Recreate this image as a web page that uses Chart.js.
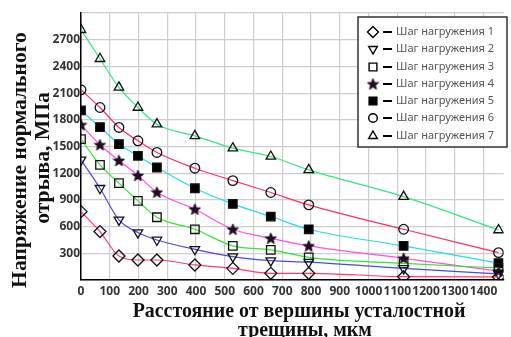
<!DOCTYPE html>
<html>
<head>
<meta charset="utf-8">
<script src="https://cdn.jsdelivr.net/npm/chart.js@4"></script>
<style>
  html, body { margin: 0; padding: 0; background: #fff; }
</style>
</head>
<body>
<canvas id="stressChart" width="511" height="337"></canvas>
<script>
// расстояние от вершины трещины, мкм
const distances = [0, 66, 132, 198, 264, 396, 528, 660, 792, 1122, 1452];

// напряжение, МПа
const step1 = [768, 544, 270, 225, 225, 169, 131, 75, 75, 37, 34];
const step2 = [1350, 1031, 675, 533, 450, 345, 263, 218, 200, 131, 68];
const step3 = [1582, 1294, 1088, 889, 705, 570, 383, 338, 255, 187, 135];
const step4 = [1744, 1519, 1342, 1174, 986, 795, 570, 469, 383, 244, 100];
const step5 = [1905, 1718, 1527, 1395, 1264, 1031, 855, 713, 570, 383, 190];
const step6 = [2137, 1938, 1714, 1564, 1433, 1256, 1117, 983, 844, 570, 307];
const step7 = [2812, 2486, 2164, 1938, 1751, 1620, 1481, 1388, 1237, 937, 562];

const seriesNames = ['Шаг нагружения 1', 'Шаг нагружения 2', 'Шаг нагружения 3',
    'Шаг нагружения 4', 'Шаг нагружения 5', 'Шаг нагружения 6', 'Шаг нагружения 7'];
const yTitle = ['Напряжение нормального', 'отрыва, МПа'];
const xTitle = ['Расстояние от вершины усталостной', 'трещины, мкм'];

// звёздочка для 4-го шага
function makeStar() {
    const c = document.createElement('canvas');
    c.width = 13; c.height = 13;
    const g = c.getContext('2d');
    g.beginPath();
    for (let i = 0; i < 10; i++) {
        const r = i % 2 ? 2.5 : 6;
        const a = -Math.PI / 2 + i * Math.PI / 5;
        g.lineTo(6.5 + r * Math.cos(a), 7 + r * Math.sin(a));
    }
    g.closePath();
    g.fillStyle = '#2a0a2a';
    g.fill();
    g.strokeStyle = '#000';
    g.lineWidth = 0.8;
    g.stroke();
    return c;
}
const star = makeStar();

const styles = [
    { line: '#ff3d6e', point: 'rectRot', r: 6, rot: 0, fill: 'rgba(0,0,0,0)' },
    { line: '#4a4ae0', point: 'triangle', r: 5.5, rot: 180, fill: 'rgba(0,0,0,0)' },
    { line: '#30e630', point: 'rect', r: 6, rot: 0, fill: 'rgba(0,0,0,0)' },
    { line: '#ff50e8', point: star, r: 6, rot: 0, fill: '#2a0a2a' },
    { line: '#25dede', point: 'rect', r: 6, rot: 0, fill: '#000' },
    { line: '#ff3060', point: 'circle', r: 4.8, rot: 0, fill: 'rgba(0,0,0,0)' },
    { line: '#36e67c', point: 'triangle', r: 5.5, rot: 0, fill: 'rgba(0,0,0,0)' },
];

const allSteps = [step1, step2, step3, step4, step5, step6, step7];

const datasets = allSteps.map((vals, i) => ({
    label: seriesNames[i],
    data: distances.map((d, j) => ({ x: d, y: vals[j] })),
    borderColor: styles[i].line,
    borderWidth: 1.2,
    cubicInterpolationMode: 'monotone',
    pointStyle: styles[i].point,
    pointRadius: styles[i].r,
    pointRotation: styles[i].rot,
    pointBorderColor: '#111',
    pointBorderWidth: 1.3,
    pointBackgroundColor: styles[i].fill,
}));

const titlesPlugin = {
    id: 'axisTitles',
    afterDraw(chart) {
        const ctx = chart.ctx;
        ctx.save();
        ctx.fillStyle = '#111';
        ctx.textAlign = 'center';
        ctx.textBaseline = 'middle';

        ctx.font = 'bold 20px "Liberation Serif"';
        let size = 20 * 333 / ctx.measureText(xTitle[0]).width;
        ctx.font = `bold ${size}px "Liberation Serif"`;
        ctx.fillText(xTitle[0], 299, 312);
        ctx.fillText(xTitle[1], 305, 331);

        ctx.font = 'bold 20px "Liberation Serif"';
        size = 20 * 256 / ctx.measureText(yTitle[0]).width;
        ctx.font = `bold ${size}px "Liberation Serif"`;
        ctx.save();
        ctx.translate(20.5, 160);
        ctx.rotate(-Math.PI / 2);
        ctx.fillText(yTitle[0], 0, 0);
        ctx.restore();
        ctx.save();
        ctx.translate(43.5, 158);
        ctx.rotate(-Math.PI / 2);
        ctx.fillText(yTitle[1], 0, 0);
        ctx.restore();
        ctx.restore();
    }
};

const legendPlugin = {
    id: 'boxLegend',
    afterDraw(chart) {
        const ctx = chart.ctx;
        ctx.save();
        ctx.fillStyle = '#fff';
        ctx.fillRect(358, 17, 149, 130);
        ctx.strokeStyle = '#333';
        ctx.lineWidth = 1.5;
        ctx.strokeRect(358, 17, 149, 130);
        const rows = [32, 49, 67, 84, 101, 118, 136];
        rows.forEach((y, i) => {
            ctx.strokeStyle = '#000';
            ctx.fillStyle = styles[i].fill;
            ctx.lineWidth = 1.4;
            Chart.helpers.drawPoint(ctx, {
                pointStyle: styles[i].point,
                radius: styles[i].r - 0.5,
                rotation: styles[i].rot,
                borderWidth: 1.4
            }, 373, y);
            ctx.beginPath();
            ctx.lineWidth = 2;
            ctx.moveTo(383, y);
            ctx.lineTo(392, y);
            ctx.stroke();
            ctx.fillStyle = '#555';
            ctx.font = '11px "Noto Sans"';
            ctx.textAlign = 'left';
            ctx.textBaseline = 'middle';
            ctx.fillText(seriesNames[i], 396, y);
        });
        ctx.restore();
    }
};

const tickFont = { family: 'Noto Sans', size: 12, weight: 'bold' };

new Chart(document.getElementById('stressChart'), {
    type: 'line',
    data: { datasets: datasets },
    options: {
        responsive: false,
        animation: false,
        layout: { padding: { top: 13, right: 5, left: 0, bottom: 0 } },
        plugins: { legend: { display: false }, tooltip: { enabled: false } },
        scales: {
            x: {
                type: 'linear',
                min: 0,
                max: 1470,
                afterFit: s => { s.height = 57; },
                grid: { color: '#cdcdcd', lineWidth: 1.2, drawTicks: false },
                border: { color: '#000', width: 1.5 },
                ticks: {
                    stepSize: 100,
                    includeBounds: false,
                    autoSkip: false,
                    maxRotation: 0,
                    padding: 4,
                    color: '#333',
                    font: tickFont,
                    callback: v => String(v)
                }
            },
            y: {
                min: 0,
                max: 3000,
                afterFit: s => { s.width = 81; },
                grid: { color: '#cdcdcd', lineWidth: 1.2, drawTicks: false },
                border: { color: '#000', width: 1.5 },
                ticks: {
                    stepSize: 300,
                    padding: 1,
                    color: '#333',
                    font: tickFont,
                    callback: v => (v === 0 || v === 3000) ? '' : String(v)
                }
            }
        }
    },
    plugins: [titlesPlugin, legendPlugin]
});
</script>
</body>
</html>
